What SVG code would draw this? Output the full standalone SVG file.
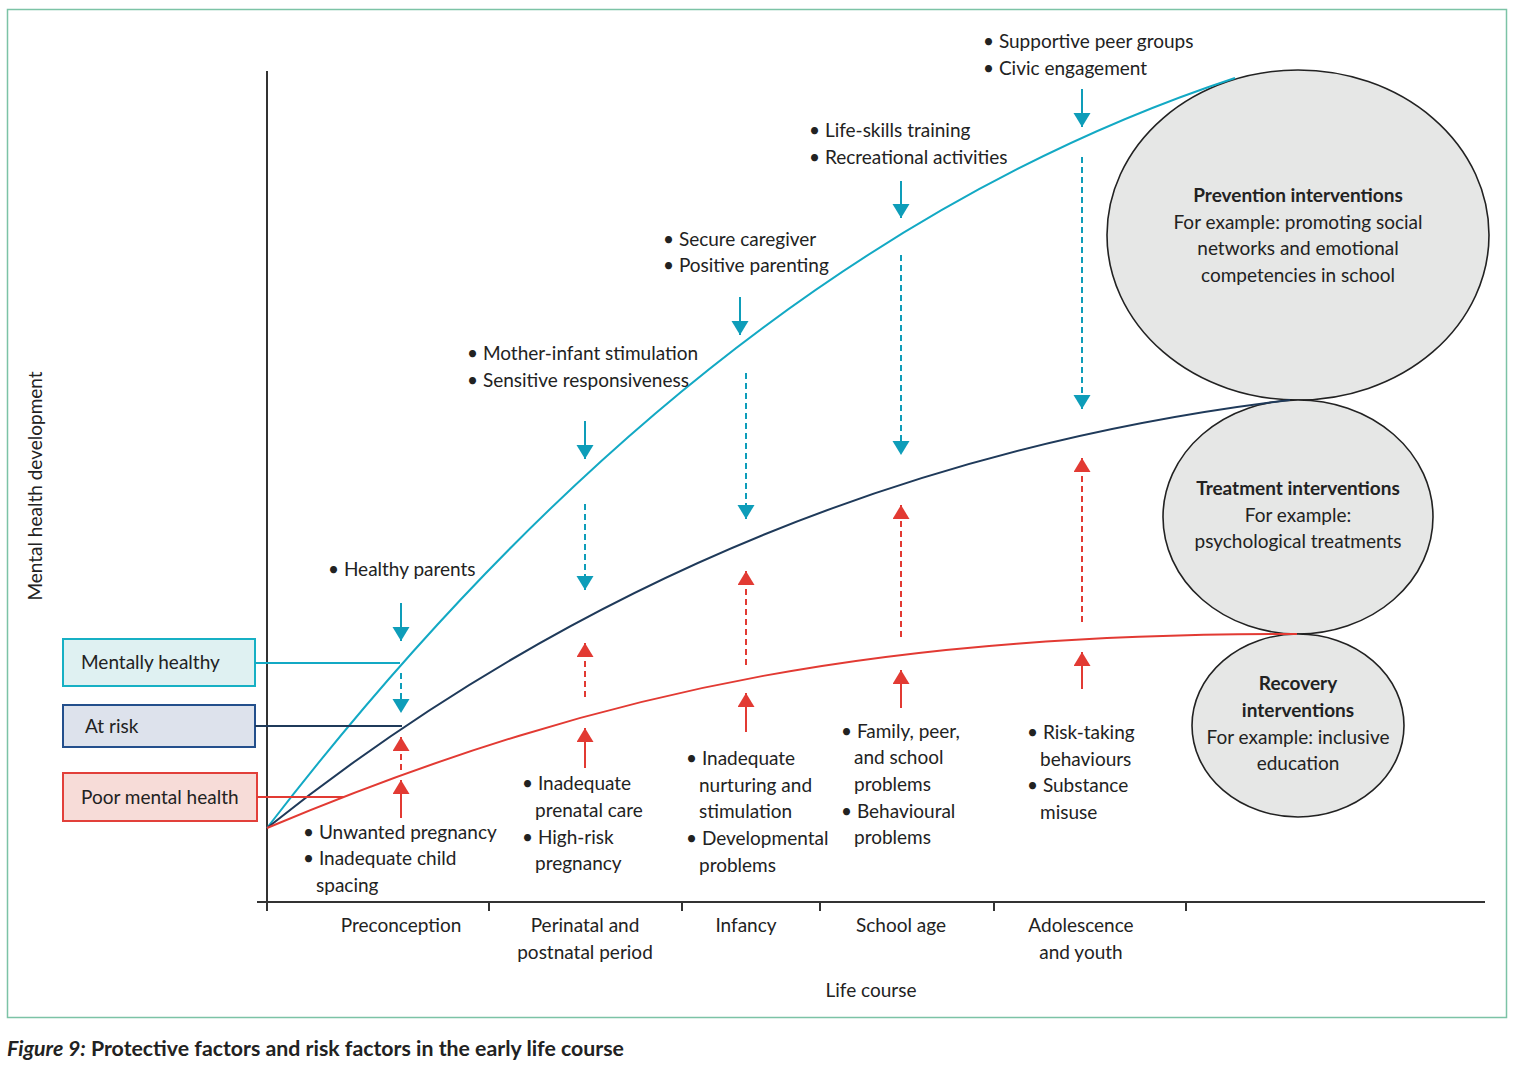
<svg xmlns="http://www.w3.org/2000/svg" width="1516" height="1066" viewBox="0 0 1516 1066">
<style>
text{font-family:Lato,"Noto Sans","Liberation Sans",sans-serif;font-size:19px;fill:#222}
.b{font-weight:bold}
.m{text-anchor:middle}
.ax{stroke:#333;stroke-width:2;fill:none}
.cy{stroke:#0e9db9;stroke-width:2;fill:none}
.rd{stroke:#e23a33;stroke-width:2;fill:none}
.dash{stroke-dasharray:6 4}
.ell{fill:#e6e7e6;stroke:#222;stroke-width:1.6}
</style>
<defs>
<marker id="ac" markerUnits="userSpaceOnUse" markerWidth="16" markerHeight="18" refX="14" refY="8.5" orient="auto" viewBox="0 0 16 18"><path d="M0,0 L14,8.5 L0,17 z" fill="#0e9db9"/></marker>
<marker id="ar" markerUnits="userSpaceOnUse" markerWidth="16" markerHeight="18" refX="14" refY="8.5" orient="auto" viewBox="0 0 16 18"><path d="M0,0 L14,8.5 L0,17 z" fill="#e23a33"/></marker>
</defs>
<rect x="0" y="0" width="1516" height="1066" fill="#fff"/>
<rect x="7.5" y="9.5" width="1499" height="1008" fill="#fff" stroke="#7cc3a6" stroke-width="1.5"/>

<g id="axes">
<line class="ax" x1="267" y1="71" x2="267" y2="911"/>
<line class="ax" x1="257" y1="902" x2="1485" y2="902"/>
<line class="ax" x1="489" y1="902" x2="489" y2="911" stroke-width="1.5"/>
<line class="ax" x1="682" y1="902" x2="682" y2="911" stroke-width="1.5"/>
<line class="ax" x1="820" y1="902" x2="820" y2="911" stroke-width="1.5"/>
<line class="ax" x1="994" y1="902" x2="994" y2="911" stroke-width="1.5"/>
<line class="ax" x1="1186" y1="902" x2="1186" y2="911" stroke-width="1.5"/>
<text class="m" transform="translate(42,486) rotate(-90)">Mental health development</text>
<text class="m" x="401" y="932">Preconception</text>
<text class="m" x="585" y="932">Perinatal and</text>
<text class="m" x="585" y="959">postnatal period</text>
<text class="m" x="746" y="932">Infancy</text>
<text class="m" x="901" y="932">School age</text>
<text class="m" x="1081" y="932">Adolescence</text>
<text class="m" x="1081" y="959">and youth</text>
<text class="m" x="871" y="997">Life course</text>
</g>

<g id="ellipses">
<g id="prevention">
<ellipse class="ell" cx="1298" cy="235" rx="191" ry="165"/>
<text class="m b" x="1298" y="202">Prevention interventions</text>
<text class="m" x="1298" y="229">For example: promoting social</text>
<text class="m" x="1298" y="255">networks and emotional</text>
<text class="m" x="1298" y="282">competencies in school</text>
</g>
<g id="treatment">
<ellipse class="ell" cx="1298" cy="517" rx="135" ry="117"/>
<text class="m b" x="1298" y="495">Treatment interventions</text>
<text class="m" x="1298" y="522">For example:</text>
<text class="m" x="1298" y="548">psychological treatments</text>
</g>
<g id="recovery">
<ellipse class="ell" cx="1298" cy="725.5" rx="106" ry="91.5"/>
<text class="m b" x="1298" y="690">Recovery</text>
<text class="m b" x="1298" y="717">interventions</text>
<text class="m" x="1298" y="744">For example: inclusive</text>
<text class="m" x="1298" y="770">education</text>
</g>
</g>

<g id="curves">
<path d="M267,828 Q711,251 1235,78" fill="none" stroke="#13a9c4" stroke-width="2"/>
<path d="M267,828 Q716,469 1290,400" fill="none" stroke="#1f3a5a" stroke-width="2"/>
<path d="M267,828 C617,681 897,634 1297,634" fill="none" stroke="#e23a33" stroke-width="2"/>
</g>

<g id="legend">
<g id="mentally-healthy">
<rect x="63" y="639" width="192" height="47" fill="#dff1f2" stroke="#17b0c4" stroke-width="2"/>
<text x="81" y="669">Mentally healthy</text>
</g>
<g id="at-risk">
<rect x="63" y="705" width="192" height="42" fill="#dde2ec" stroke="#234f8c" stroke-width="2"/>
<text x="85" y="733">At risk</text>
</g>
<g id="poor-mental-health">
<rect x="63" y="773" width="194" height="48" fill="#f7dcd8" stroke="#e2403a" stroke-width="2"/>
<text x="81" y="804">Poor mental health</text>
</g>
</g>

<g id="connectors">
<line x1="255" y1="663" x2="400" y2="663" stroke="#13a9c4" stroke-width="2"/>
<line x1="255" y1="726" x2="402" y2="726" stroke="#1f3a5a" stroke-width="2"/>
<line x1="257" y1="797" x2="344" y2="797" stroke="#e23a33" stroke-width="2"/>
<!-- cyan solid -->
<line class="cy" x1="401" y1="603" x2="401" y2="641" marker-end="url(#ac)"/>
<line class="cy" x1="585" y1="421" x2="585" y2="459" marker-end="url(#ac)"/>
<line class="cy" x1="740" y1="297" x2="740" y2="335" marker-end="url(#ac)"/>
<line class="cy" x1="901" y1="181" x2="901" y2="218" marker-end="url(#ac)"/>
<line class="cy" x1="1082" y1="89" x2="1082" y2="127" marker-end="url(#ac)"/>
<!-- cyan dashed -->
<line class="cy dash" x1="401" y1="673" x2="401" y2="713" marker-end="url(#ac)"/>
<line class="cy dash" x1="585" y1="504" x2="585" y2="590" marker-end="url(#ac)"/>
<line class="cy dash" x1="746" y1="373" x2="746" y2="519" marker-end="url(#ac)"/>
<line class="cy dash" x1="901" y1="255" x2="901" y2="455" marker-end="url(#ac)"/>
<line class="cy dash" x1="1082" y1="157" x2="1082" y2="409" marker-end="url(#ac)"/>
<!-- red dashed -->
<line class="rd dash" x1="401" y1="770" x2="401" y2="737" marker-end="url(#ar)"/>
<line class="rd dash" x1="585" y1="697" x2="585" y2="643" marker-end="url(#ar)"/>
<line class="rd dash" x1="746" y1="665" x2="746" y2="571" marker-end="url(#ar)"/>
<line class="rd dash" x1="901" y1="637" x2="901" y2="505" marker-end="url(#ar)"/>
<line class="rd dash" x1="1082" y1="622" x2="1082" y2="458" marker-end="url(#ar)"/>
<!-- red solid -->
<line class="rd" x1="401" y1="818" x2="401" y2="780" marker-end="url(#ar)"/>
<line class="rd" x1="585" y1="768" x2="585" y2="728" marker-end="url(#ar)"/>
<line class="rd" x1="746" y1="732" x2="746" y2="693" marker-end="url(#ar)"/>
<line class="rd" x1="901" y1="708" x2="901" y2="670" marker-end="url(#ar)"/>
<line class="rd" x1="1082" y1="689" x2="1082" y2="652" marker-end="url(#ar)"/>
</g>

<g id="protective-factors">
<text x="983" y="48">• Supportive peer groups</text>
<text x="983" y="75">• Civic engagement</text>
<text x="809" y="137">• Life-skills training</text>
<text x="809" y="164">• Recreational activities</text>
<text x="663" y="246">• Secure caregiver</text>
<text x="663" y="272">• Positive parenting</text>
<text x="467" y="360">• Mother-infant stimulation</text>
<text x="467" y="387">• Sensitive responsiveness</text>
<text x="328" y="576">• Healthy parents</text>
</g>

<g id="risk-factors">
<text x="303" y="839">• Unwanted pregnancy</text>
<text x="303" y="865">• Inadequate child</text>
<text x="316" y="892">spacing</text>
<text x="522" y="790">• Inadequate</text>
<text x="535" y="817">prenatal care</text>
<text x="522" y="844">• High-risk</text>
<text x="535" y="870">pregnancy</text>
<text x="686" y="765">• Inadequate</text>
<text x="699" y="792">nurturing and</text>
<text x="699" y="818">stimulation</text>
<text x="686" y="845">• Developmental</text>
<text x="699" y="872">problems</text>
<text x="841" y="738">• Family, peer,</text>
<text x="854" y="764">and school</text>
<text x="854" y="791">problems</text>
<text x="841" y="818">• Behavioural</text>
<text x="854" y="844">problems</text>
<text x="1027" y="739">• Risk-taking</text>
<text x="1040" y="766">behaviours</text>
<text x="1027" y="792">• Substance</text>
<text x="1040" y="819">misuse</text>
</g>

<g id="caption">
<text x="7" y="1056" class="b" style="font-size:21px" textLength="617" lengthAdjust="spacingAndGlyphs"><tspan font-style="italic">Figure 9:</tspan> Protective factors and risk factors in the early life course</text>
</g>
</svg>
